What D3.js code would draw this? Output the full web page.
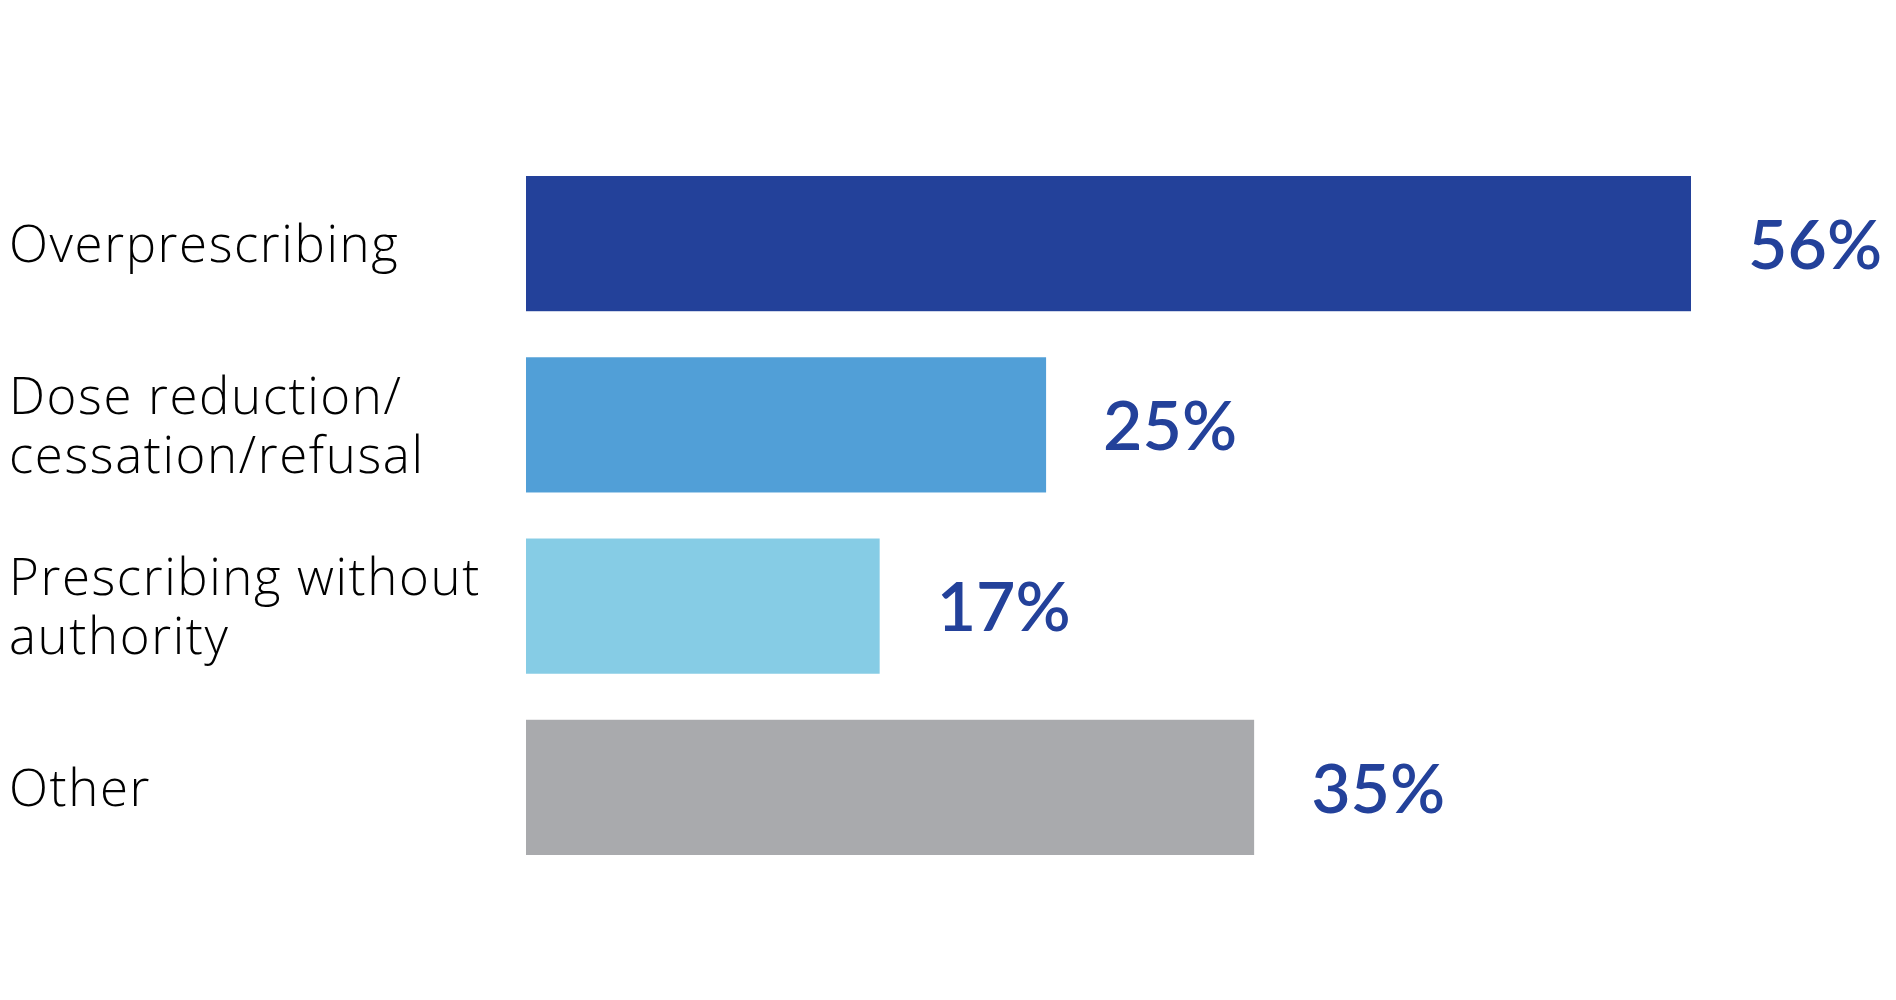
<!DOCTYPE html>
<html>
<head>
<meta charset="utf-8">
<script src="https://cdn.jsdelivr.net/npm/d3@7"></script>
<style>
  html, body { margin: 0; padding: 0; background: #ffffff; }
  svg { display: block; }
</style>
</head>
<body>
<svg id="chart" width="1896" height="1000"></svg>
<script>
const categories = ["Overprescribing", "Dose reduction/cessation/refusal", "Prescribing without authority", "Other"];
const labelLines = [["Overprescribing"], ["Dose reduction/", "cessation/refusal"], ["Prescribing without", "authority"], ["Other"]];
const values = [56, 25, 17, 35];
const valueLabels = ["56%", "25%", "17%", "35%"];
const colors = ["#23419A", "#519FD7", "#86CCE5", "#A9AAAD"];

const svg = d3.select("#chart");

const x = d3.scaleLinear().domain([0, 56]).range([526, 1691]);
const y = d3.scaleBand().domain(categories).range([176, 855]).paddingInner(0.254).paddingOuter(0);

const g = svg.append("g");

g.selectAll("rect.bar")
  .data(categories)
  .join("rect")
  .attr("class", "bar")
  .attr("x", x(0))
  .attr("y", d => y(d))
  .attr("width", (d, i) => x(values[i]) - x(0))
  .attr("height", y.bandwidth())
  .attr("fill", (d, i) => colors[i]);

// value labels
const valFont = 68;
g.selectAll("text.val")
  .data(categories)
  .join("text")
  .attr("class", "val")
  .attr("x", (d, i) => x(values[i]) + 57)
  .attr("y", d => y(d) + y.bandwidth() / 2 + valFont * 0.37)
  .attr("font-family", "Lato, 'Noto Sans', sans-serif")
  .attr("font-weight", 600)
  .attr("font-size", valFont)
  .attr("fill", "#23419A")
  .text((d, i) => valueLabels[i]);

// category labels
const labFont = 51;
const lineH = 59;
const cat = g.selectAll("text.cat")
  .data(categories)
  .join("text")
  .attr("class", "cat")
  .attr("font-family", "'Open Sans', Lato, sans-serif")
  .attr("font-weight", 300)
  .attr("font-size", labFont)
  .attr("letter-spacing", 1.6)
  .attr("fill", "#000000");

cat.each(function(d, i) {
  const lines = labelLines[i];
  const cy = y(d) + y.bandwidth() / 2;
  const first = cy - (lines.length - 1) * lineH / 2 + labFont * 0.36;
  d3.select(this).selectAll("tspan")
    .data(lines)
    .join("tspan")
    .attr("x", 9)
    .attr("y", (l, k) => first + k * lineH)
    .text(l => l);
});
</script>
</body>
</html>
